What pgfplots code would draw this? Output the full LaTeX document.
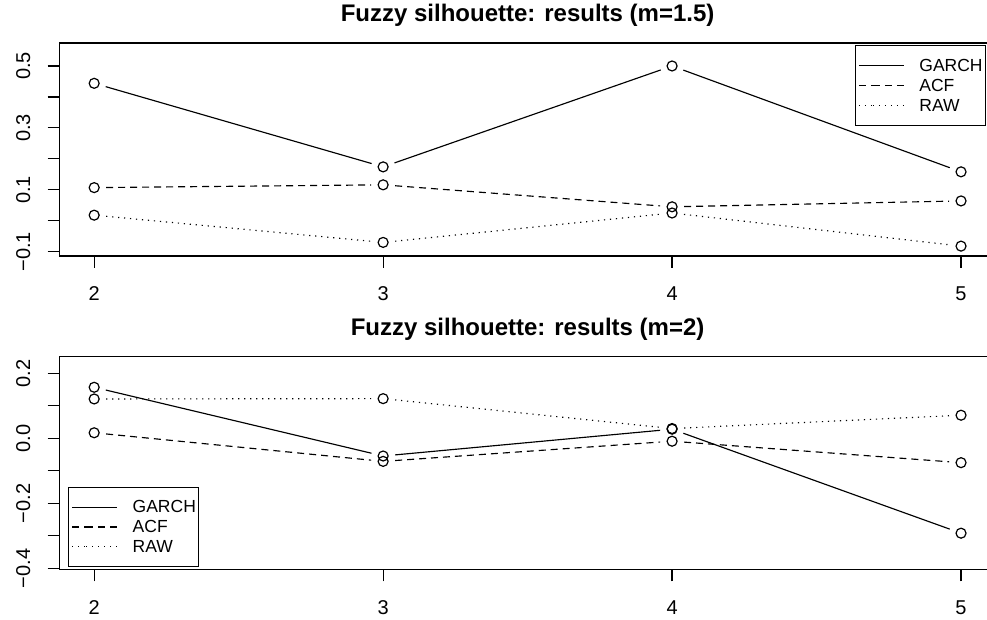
\documentclass[border=0pt]{standalone}
\usepackage{pgfplots}
\pgfplotsset{compat=1.18}
\usepackage{pgfplotstable}
\usepackage{fontspec}
\setmainfont{Liberation Sans}

% Fuzzy silhouette per number of clusters k
\pgfplotstableread{
k GARCH ACF RAW
2 0.444 0.107 0.018
3 0.174 0.116 -0.070
4 0.500 0.045 0.025
5 0.158 0.064 -0.082
}\silA

\pgfplotstableread{
k GARCH ACF RAW
2 0.157 0.017 0.121
3 -0.0545 -0.071 0.122
4 0.028 -0.009 0.030
5 -0.292 -0.075 0.071
}\silB

\pgfplotsset{
  rpanel/.style={
    scale only axis, width=936.2pt,
    xmin=1.88, xmax=5.12,
    xtick={2,3,4,5}, xticklabels={2,3,4,5},
    tick align=outside, tick pos=left,
    major tick length=12pt,
    axis line style={line width=1.2pt},
    every tick/.style={black, line width=1.2pt},
    xticklabel style={font=\fontsize{20}{24}\selectfont, anchor=base, inner sep=0pt, yshift=-33pt},
    yticklabel style={font=\fontsize{20}{24}\selectfont, xshift=-17.5pt, rotate=90, anchor=base, inner sep=0pt},
    title style={font=\bfseries\fontsize{24}{28}\selectfont, at={(0.5,1)}, anchor=base, yshift=15pt, inner sep=0pt},
    legend image code/.code={\path (0pt,0pt) -- (13.9pt,0pt); \draw[##1] (13.9pt,0pt) -- (44.9pt,0pt);},
    legend style={draw=black, line width=1.1pt, fill=white, inner xsep=2.8pt, inner ysep=9.9pt,
      column sep=15pt, row sep=0pt, font=\fontsize{17.5}{20}\selectfont,
      nodes={inner sep=0pt, text height=15.6pt, text depth=4.25pt}},
    legend cell align=left,
  },
  garch/.style={black, line width=1.15pt, solid},
  acf/.style={black, line width=1.15pt, dash pattern=on 7pt off 5pt},
  raw/.style={black, line width=1.15pt, dash pattern=on 1.2pt off 4.8pt},
  pts/.style={black, only marks, mark=o, mark size=5pt, mark options={line width=1.2pt, solid}},
}

\begin{document}
\begin{tikzpicture}[x=1pt,y=1pt]

% upper panel, m = 1.5
\begin{axis}[rpanel, at={(59.5pt,364pt)}, anchor=south west, height=213pt,
  ymin=-0.1139, ymax=0.5743,
  ytick={-0.1,0,0.1,0.2,0.3,0.4,0.5},
  yticklabels={−0.1,,0.1,,0.3,,0.5},
  title={Fuzzy silhouette: results (m=1.5)},
  legend style={at={(0.9896,0.9892)}, anchor=north east}]
  \pgfplotsinvokeforeach{2:3,3:4,4:5}{
    \addplot[garch, forget plot, shorten <=12pt, shorten >=12pt, restrict x to domain=#1] table[x=k,y=GARCH]{\silA};
    \addplot[acf, forget plot, shorten <=12pt, shorten >=12pt, restrict x to domain=#1] table[x=k,y=ACF]{\silA};
    \addplot[raw, forget plot, shorten <=12pt, shorten >=12pt, restrict x to domain=#1] table[x=k,y=RAW]{\silA};
  }
  \addplot[pts, forget plot] table[x=k,y=GARCH]{\silA};
  \addplot[pts, forget plot] table[x=k,y=ACF]{\silA};
  \addplot[pts, forget plot] table[x=k,y=RAW]{\silA};
  \addlegendimage{garch}\addlegendentry{GARCH}
  \addlegendimage{acf}\addlegendentry{ACF}
  \addlegendimage{raw}\addlegendentry{RAW}
\end{axis}

% lower panel, m = 2
\begin{axis}[rpanel, at={(59.5pt,50.7pt)}, anchor=south west, height=212.8pt,
  ymin=-0.4031, ymax=0.2517,
  ytick={-0.4,-0.3,-0.2,-0.1,0,0.1,0.2},
  yticklabels={−0.4,,−0.2,,0.0,,0.2},
  title={Fuzzy silhouette: results (m=2)},
  legend style={at={(0.0094,0.0094)}, anchor=south west}]
  \pgfplotsinvokeforeach{2:3,3:4,4:5}{
    \addplot[garch, forget plot, shorten <=12pt, shorten >=12pt, restrict x to domain=#1] table[x=k,y=GARCH]{\silB};
    \addplot[acf, forget plot, shorten <=12pt, shorten >=12pt, restrict x to domain=#1] table[x=k,y=ACF]{\silB};
    \addplot[raw, forget plot, shorten <=12pt, shorten >=12pt, restrict x to domain=#1] table[x=k,y=RAW]{\silB};
  }
  \addplot[pts, forget plot] table[x=k,y=GARCH]{\silB};
  \addplot[pts, forget plot] table[x=k,y=ACF]{\silB};
  \addplot[pts, forget plot] table[x=k,y=RAW]{\silB};
  \addlegendimage{garch}\addlegendentry{GARCH}
  \addlegendimage{acf}\addlegendentry{ACF}
  \addlegendimage{raw}\addlegendentry{RAW}
\end{axis}

\pgfresetboundingbox
\path[use as bounding box] (0,0) rectangle (987,620);
\end{tikzpicture}
\end{document}
